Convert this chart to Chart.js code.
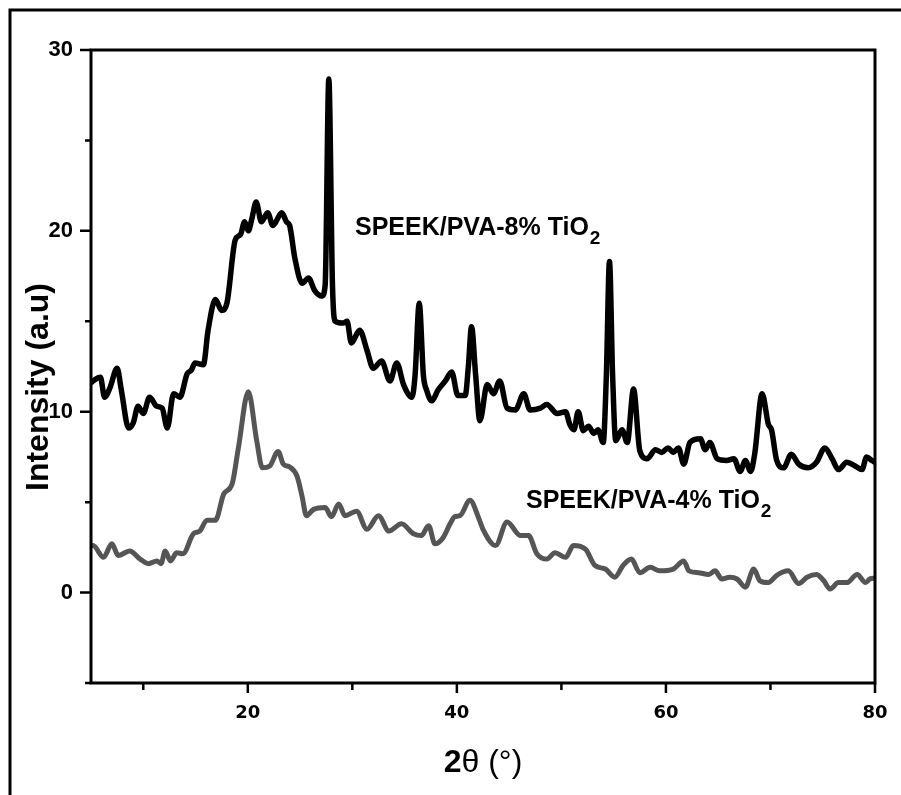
<!DOCTYPE html>
<html>
<head>
<meta charset="utf-8">
<script src="https://cdn.jsdelivr.net/npm/chart.js@4/dist/chart.umd.min.js"></script>
<style>
html,body{margin:0;padding:0;background:#fff;}
#wrap{position:relative;width:901px;height:795px;}
canvas{display:block;}
</style>
</head>
<body>
<div id="wrap"><canvas id="c" width="901" height="795"></canvas></div>
<script>
// ---- data ----
const angles8 = [5.0,5.2,5.9,6.3,6.8,7.5,7.9,8.6,9.05,9.5,10.0,10.6,11.3,11.8,12.3,12.9,13.5,14.2,14.6,14.95,15.75,16.2,16.9,17.5,18.0,18.8,19.3,19.7,20.05,20.4,20.8,21.3,21.9,22.4,23.25,23.7,24.0,24.5,25.2,25.8,26.4,27.1,27.4,27.75,28.1,28.35,29.1,29.5,29.9,30.7,31.4,32.0,32.8,33.6,34.25,34.9,35.7,36.0,36.4,36.8,37.1,37.6,38.2,38.9,39.5,40.1,40.8,41.1,41.4,41.8,42.2,42.9,43.5,44.1,44.8,45.6,46.4,47.0,48.0,48.6,49.6,50.4,50.8,51.2,51.6,52.1,52.6,53.1,53.5,54.0,54.3,54.6,54.9,55.2,55.8,56.3,56.9,57.5,58.2,59.0,59.6,60.2,60.7,61.2,61.7,62.3,63.3,63.75,64.2,64.9,65.8,66.5,67.1,67.6,68.1,68.5,69.2,69.8,70.1,70.6,71.25,72.0,72.7,73.6,74.4,75.2,75.9,76.5,77.3,78.1,78.75,79.2,79.7,80.0];
const intensity8 = [11.6,11.7,11.9,10.8,11.3,12.4,11.2,9.1,9.4,10.3,9.9,10.8,10.3,10.2,9.1,11.0,10.8,12.1,12.3,12.7,12.6,14.5,16.2,15.6,16.0,19.5,19.8,20.5,20.0,20.7,21.6,20.5,21.0,20.3,21.0,20.5,20.3,18.5,17.1,17.4,16.7,16.4,17.0,28.4,17.0,15.0,14.9,15.0,13.8,14.5,13.4,12.4,12.8,11.7,12.7,11.5,10.8,12.0,16.0,12.0,11.2,10.6,11.2,11.7,12.2,10.9,10.9,12.5,14.7,12.0,9.5,11.5,11.0,11.7,10.2,10.1,11.0,10.1,10.2,10.4,9.9,10.0,9.3,9.0,10.0,8.95,9.2,8.8,9.0,8.3,12.0,18.3,12.0,8.4,9.0,8.3,11.25,7.85,7.4,7.9,7.75,8.0,7.75,8.0,7.1,8.3,8.5,7.9,8.3,7.4,7.3,7.4,6.7,7.3,6.7,7.7,11.0,9.3,9.0,7.3,6.9,7.65,7.1,6.9,7.2,8.0,7.4,6.8,7.2,7.0,6.8,7.5,7.3,7.2];

const angles4 = [5.0,5.2,6.2,7.0,7.6,8.7,9.7,10.5,11.3,11.7,12.1,12.6,13.2,13.8,14.8,15.4,16.1,16.9,17.7,18.5,19.1,20.05,20.85,21.4,22.1,22.9,23.4,24.0,24.7,25.2,25.6,26.3,27.4,28.0,28.7,29.3,30.4,31.4,32.5,33.5,34.7,35.85,36.6,37.3,37.9,38.7,39.35,39.8,40.3,41.25,42.1,42.5,43.7,44.8,46.1,46.85,47.65,48.6,49.4,50.4,51.15,52.3,53.2,54.2,55.1,55.9,56.7,57.5,58.5,59.4,60.7,61.7,62.2,63.1,64.1,64.7,65.35,66.1,66.8,67.6,68.4,69.0,69.8,70.6,71.7,72.7,73.5,74.4,75.1,75.7,76.5,77.3,78.3,79.1,79.5,80.0];
const intensity4 = [2.6,2.6,1.95,2.7,2.05,2.3,1.85,1.6,1.75,1.6,2.3,1.75,2.2,2.15,3.25,3.4,4.0,4.0,5.45,6.0,8.0,11.1,8.4,6.9,7.0,7.8,7.1,6.95,6.45,5.3,4.25,4.6,4.7,4.2,4.9,4.25,4.5,3.5,4.25,3.4,3.8,3.25,3.15,3.7,2.7,3.05,3.8,4.2,4.25,5.1,4.1,3.5,2.6,3.9,3.15,3.15,2.15,1.85,2.2,1.95,2.6,2.4,1.5,1.3,0.85,1.5,1.85,1.1,1.4,1.2,1.3,1.75,1.2,1.1,1.0,1.2,0.75,0.85,0.75,0.3,1.3,0.65,0.55,0.95,1.2,0.5,0.85,1.0,0.65,0.2,0.55,0.55,1.0,0.55,0.75,0.8];

const seriesNames = ["SPEEK/PVA-8% TiO", "SPEEK/PVA-4% TiO"];
const xTickLabels = [20, 40, 60, 80];
const xMinorTicks = [10, 30, 50, 70];
const yTickLabels = [0, 10, 20, 30];
const yMinorTicks = [-5, 5, 15, 25];
const xTitle = ["2", "θ (°)"];
const yTitle = "Intensity (a.u)";

const toPts = (xs, ys) => xs.map((x, i) => ({x: x, y: ys[i]}));

const decor = {
  id: 'decor',
  beforeDraw(chart) {
    const ctx = chart.ctx;
    ctx.save();
    ctx.fillStyle = '#fff';
    ctx.fillRect(0, 0, chart.width, chart.height);
    // outer frame (left + top)
    ctx.strokeStyle = '#000';
    ctx.lineWidth = 3;
    ctx.beginPath();
    ctx.moveTo(10, chart.height);
    ctx.lineTo(10, 10);
    ctx.lineTo(chart.width, 10);
    ctx.stroke();
    ctx.restore();
  },
  afterDraw(chart) {
    const ctx = chart.ctx;
    const a = chart.chartArea;
    const xs = chart.scales.x, ys = chart.scales.y;
    ctx.save();
    ctx.strokeStyle = '#000';
    ctx.lineWidth = 3;
    ctx.strokeRect(a.left, a.top, a.right - a.left, a.bottom - a.top);
    // ticks
    ctx.lineWidth = 2.5;
    ctx.beginPath();
    xTickLabels.forEach(v => { const p = xs.getPixelForValue(v); ctx.moveTo(p, a.bottom); ctx.lineTo(p, a.bottom + 10); });
    xMinorTicks.forEach(v => { const p = xs.getPixelForValue(v); ctx.moveTo(p, a.bottom); ctx.lineTo(p, a.bottom + 7); });
    yTickLabels.forEach(v => { const p = ys.getPixelForValue(v); ctx.moveTo(a.left, p); ctx.lineTo(a.left - 11, p); });
    yMinorTicks.forEach(v => { const p = ys.getPixelForValue(v); ctx.moveTo(a.left, p); ctx.lineTo(a.left - 6, p); });
    ctx.stroke();

    ctx.fillStyle = '#000';
    // y title
    ctx.save();
    ctx.translate(48, 387);
    ctx.rotate(-Math.PI / 2);
    ctx.font = 'bold 32px "Liberation Sans", Arial, sans-serif';
    ctx.textAlign = 'center';
    ctx.textBaseline = 'alphabetic';
    ctx.fillText(yTitle, 0, 0);
    ctx.restore();

    // x title
    ctx.textBaseline = 'alphabetic';
    ctx.textAlign = 'left';
    const fB = 'bold 32px "Liberation Sans", Arial, sans-serif';
    const fN = '32px "Liberation Sans", Arial, sans-serif';
    ctx.font = fB; const w1 = ctx.measureText(xTitle[0]).width;
    ctx.font = fN; const w2 = ctx.measureText(xTitle[1]).width;
    let x0 = 483 - (w1 + w2) / 2;
    ctx.font = fB; ctx.fillText(xTitle[0], x0, 772);
    ctx.font = fN; ctx.fillText(xTitle[1], x0 + w1, 772);

    // annotations with subscript 2
    const drawLabel = (txt, x, y) => {
      ctx.font = 'bold 25px "Liberation Sans", Arial, sans-serif';
      ctx.fillText(txt, x, y);
      const w = ctx.measureText(txt).width;
      ctx.font = 'bold 19px "Liberation Sans", Arial, sans-serif';
      ctx.fillText('2', x + w + 1, y + 9);
    };
    drawLabel(seriesNames[0], 355, 235);
    drawLabel(seriesNames[1], 526, 508);
    ctx.restore();
  }
};

new Chart(document.getElementById('c'), {
  type: 'line',
  data: {
    datasets: [
      { label: seriesNames[1] + '2', data: toPts(angles4, intensity4), borderColor: '#555555', borderWidth: 5, pointRadius: 0, cubicInterpolationMode: 'monotone', borderJoinStyle: 'round', borderCapStyle: 'round', fill: false },
      { label: seriesNames[0] + '2', data: toPts(angles8, intensity8), borderColor: '#000000', borderWidth: 5.5, pointRadius: 0, cubicInterpolationMode: 'monotone', borderJoinStyle: 'round', borderCapStyle: 'round', fill: false }
    ]
  },
  options: {
    responsive: false,
    animation: false,
    events: [],
    layout: { padding: { left: 0, top: 50, right: 26, bottom: 0 } },
    plugins: { legend: { display: false }, tooltip: { enabled: false }, title: { display: false } },
    scales: {
      x: {
        type: 'linear', min: 5, max: 80,
        grid: { display: false, drawTicks: false },
        border: { display: false },
        afterBuildTicks: s => { s.ticks = xTickLabels.map(v => ({ value: v })); },
        afterFit: s => { s.height = 112; s.paddingLeft = 0; s.paddingRight = 0; },
        ticks: { color: '#000', padding: 20, maxRotation: 0, autoSkip: false,
          font: { family: '"DejaVu Sans", sans-serif', weight: 'bold', size: 18 },
          callback: v => String(v) }
      },
      y: {
        type: 'linear', min: -5, max: 30,
        grid: { display: false, drawTicks: false },
        border: { display: false },
        afterBuildTicks: s => { s.ticks = yTickLabels.map(v => ({ value: v })); },
        afterFit: s => { s.width = 91; s.paddingTop = 0; s.paddingBottom = 0; },
        ticks: { color: '#000', padding: 18, autoSkip: false,
          font: { family: '"Liberation Sans", Arial, sans-serif', weight: 'bold', size: 22 },
          callback: v => String(v) }
      }
    }
  },
  plugins: [decor]
});
</script>
</body>
</html>
